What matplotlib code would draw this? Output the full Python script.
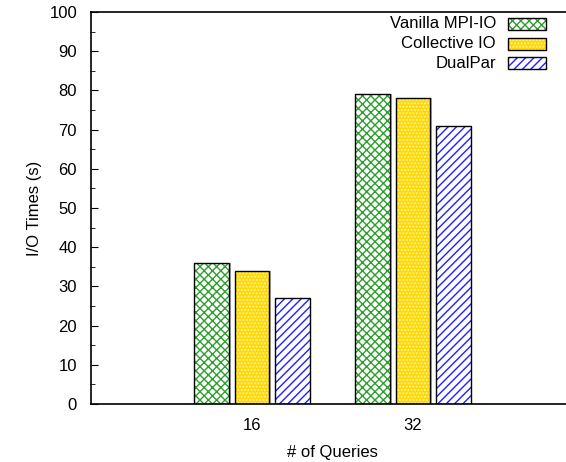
import numpy as np
import matplotlib.pyplot as plt
import matplotlib.ticker as mticker
from matplotlib.patches import Rectangle

plt.rcParams['font.family'] = ['Liberation Sans', 'DejaVu Sans']
plt.rcParams['hatch.linewidth'] = 1.0

# Дані
queries = ['16', '32']
series = ['Vanilla MPI-IO', 'Collective IO', 'DualPar']
vanilla = [36, 79]
collective = [34, 78]
dualpar = [27, 71]
values = [vanilla, collective, dualpar]

faces = ['white', '#ffd700', 'white']
hatch_cols = ['#2e9e2e', '#fff3a0', '#2020ff']
hatches = ['xxxx', '.....', '////']

fig = plt.figure(figsize=(5.66, 4.62), dpi=100)
ax = fig.add_axes([91 / 566, 58 / 462, 483 / 566, 392 / 462])

x = np.arange(1, len(queries) + 1)
w = 0.217
offs = [-0.25, 0, 0.25]
for i in range(3):
    # тінь
    ax.bar(x + offs[i] + 0.01, values[i], w, color='#b0b0b0', linewidth=0, zorder=1)
    ax.bar(x + offs[i], values[i], w, color=faces[i], edgecolor=hatch_cols[i],
           hatch=hatches[i], linewidth=0, zorder=2)
    ax.bar(x + offs[i], values[i], w, fill=False, edgecolor='black', linewidth=1, zorder=3)

# легенда вручну (текст + зразок)
for i, name in enumerate(series):
    yc = 24 + i * 19.5
    fig.text(496 / 566, 1 - yc / 462, name, ha='right', va='center', fontsize=12)
    box = (508 / 566, 1 - (yc + 6) / 462)
    fig.patches.append(Rectangle(box, 38 / 566, 12 / 462, transform=fig.transFigure,
                                 facecolor=faces[i], edgecolor=hatch_cols[i],
                                 hatch=hatches[i], linewidth=0))
    fig.patches.append(Rectangle(box, 38 / 566, 12 / 462, transform=fig.transFigure,
                                 fill=False, edgecolor='black', linewidth=1))

ax.set_xlim(0, 3)
ax.set_ylim(0, 100)
ax.set_xticks(x)
ax.set_xticklabels(queries)
ax.yaxis.set_major_locator(mticker.MultipleLocator(10))
ax.yaxis.set_minor_locator(mticker.MultipleLocator(5))
ax.tick_params(axis='y', direction='in', labelsize=12, length=5, pad=10, right=False)
ax.tick_params(axis='y', which='minor', direction='in', length=3)
ax.tick_params(axis='x', length=0, labelsize=12, pad=10)
ax.set_xlabel('# of Queries', fontsize=12, labelpad=9)
ax.set_ylabel('I/O Times (s)', fontsize=12, labelpad=5)
ax.spines['right'].set_visible(False)
for s in ['left', 'top', 'bottom']:
    ax.spines[s].set_linewidth(1.2)

fig.savefig('out.png', dpi=100)
